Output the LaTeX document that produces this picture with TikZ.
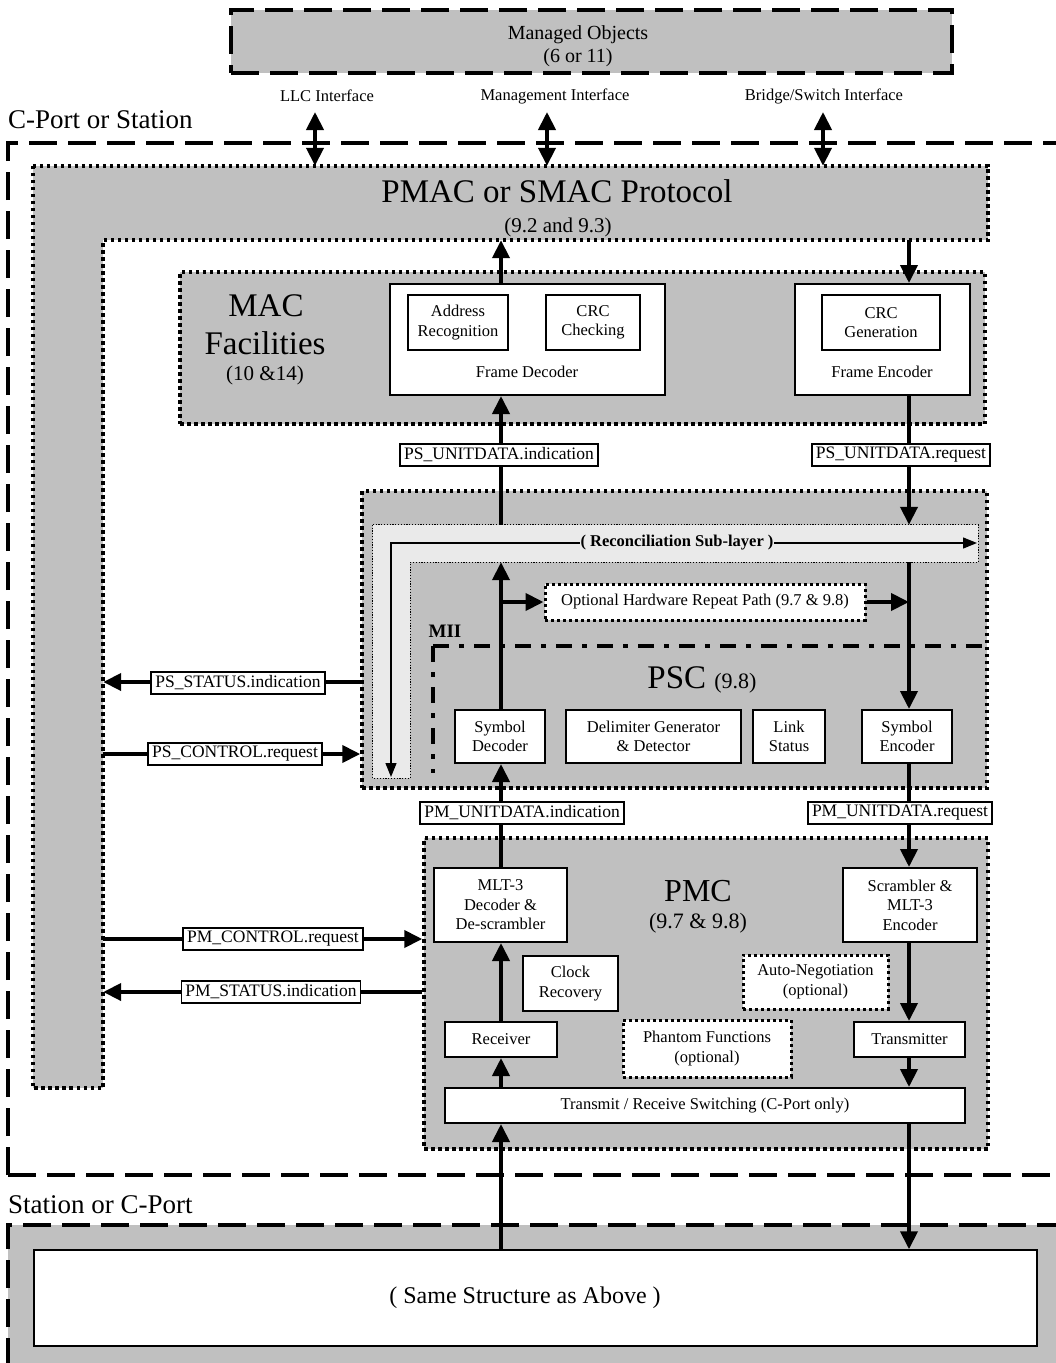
\documentclass[tikz,border=0pt]{standalone}
\usepackage{fontspec}
\setmainfont{Liberation Serif}
\usetikzlibrary{arrows.meta}
\definecolor{panelgray}{RGB}{192,192,192}
\definecolor{rslgray}{RGB}{234,234,234}
\newcommand\fsz[2]{\fontsize{#1}{#2}\selectfont}
\tikzset{
  span/.style n args={4}{at={({(#1+#3)/2},{(#2+#4)/2})}, minimum width={#3-#1}, minimum height={#4-#2}, inner sep=0pt, anchor=center},
  region/.style={fill=panelgray, draw=black, line width=3.5pt, dash pattern=on 3.5pt off 3.5pt, inner sep=0pt},
  dotline/.style={draw=black, line width=3.5pt, dash pattern=on 3.5pt off 3.5pt},
  wbox/.style={fill=white, draw=black, line width=2pt, inner sep=0pt, align=center, font=\fsz{16.5}{19.5}},
  wdot/.style={fill=white, draw=black, line width=3pt, dash pattern=on 3pt off 3pt, inner sep=0pt, align=center, font=\fsz{16.5}{19.5}},
  prim/.style={fill=white, draw=black, line width=1.8pt, inner xsep=4pt, inner ysep=3.5pt, font=\fsz{17.5}{21}},
  flow/.style={line width=4pt, -{Triangle[length=18pt,width=17pt]}},
  twoway/.style={line width=4pt, {Triangle[length=18pt,width=17pt]}-{Triangle[length=18pt,width=17pt]}},
  bigdash/.style={line width=3.5pt, dash pattern=on 28pt off 11pt},
  pscline/.style={line width=4.5pt, dash pattern=on 16pt off 10pt on 5pt off 10pt},
  thinflow/.style={line width=1.3pt, {Triangle[length=14pt,width=11pt]}-{Triangle[length=14pt,width=11pt]}},
}
\begin{document}
\begin{tikzpicture}[x=1pt,y=-1pt]
\useasboundingbox (0,0) rectangle (1056,1363);

% columns of the receive and transmit paths
\coordinate (colL) at (501,0);
\coordinate (colR) at (909,0);

% ---------- management objects and interfaces ----------
\node[fill=panelgray, draw=black, bigdash, span={231}{10}{952}{73}] (mo) {};
\node[font=\fsz{20}{23}, align=center] (motxt) at (578,46) {Managed Objects\\(6 or 11)};
\node[font=\fsz{16.5}{19}] (llc) at (327,96) {LLC Interface};
\node[font=\fsz{16.5}{19}] (mgmt) at (555,96) {Management Interface};
\node[font=\fsz{16.5}{19}] (brsw) at (824,96) {Bridge/Switch Interface};
\coordinate (i1) at (315,112);
\coordinate (i2) at (547,112);
\coordinate (i3) at (823,112);

% ---------- outer station boundaries ----------
\node[anchor=base west, font=\fsz{27}{32}, inner sep=0pt] (cps) at (8,128) {C-Port or Station};
\draw[bigdash] (8,1175) -- (8,143) -- (1060,143);
\draw[bigdash] (8,1175) -- (1060,1175);

\fill[panelgray] (8,1225) rectangle (1060,1366);
\draw[bigdash] (8,1366) -- (8,1225) -- (1060,1225);
\node[anchor=base west, font=\fsz{27}{32}, inner sep=0pt] (scp) at (8,1213) {Station or C-Port};
\node[wbox, line width=1.5pt, span={34}{1250}{1037}{1346}] (same) {};
\node[font=\fsz{24}{28}] (samet) at (525,1298) {( Same Structure as Above )};

% ---------- PMAC / SMAC protocol (L-shaped) ----------
\node[span={33}{166}{988}{240}] (pmac) {};
\node[span={33}{166}{103}{1088}] (pcol) {};
\fill[panelgray] (pmac.north west) rectangle (pmac.south east);
\fill[panelgray] (pcol.north west) rectangle (pcol.south east);
\draw[dotline] (pmac.north west) -- (pmac.north east) -- (pmac.south east)
  -- (pmac.south -| pcol.east) -- (pcol.south east) -- (pcol.south west) -- cycle;
\node[anchor=base, font=\fsz{33}{40}, inner sep=0pt] (pmact) at (557,202) {PMAC or SMAC Protocol};
\node[anchor=base, font=\fsz{21}{25}, inner sep=0pt] (pmacs) at (558,232) {(9.2 and 9.3)};

% ---------- MAC facilities ----------
\node[region, span={180}{272}{985}{424}] (mac) {};
\node[anchor=base, font=\fsz{33}{40}, inner sep=0pt] (mact1) at (266,316) {MAC};
\node[anchor=base, font=\fsz{33}{40}, inner sep=0pt] (mact2) at (265,354) {Facilities};
\node[anchor=base, font=\fsz{21}{25}, inner sep=0pt] (mact3) at (265,380) {(10 \&14)};

\node[wbox, span={390}{284}{665}{395}] (fdec) {};
\node[wbox, span={408}{295}{508}{350}] (addr) {Address\\Recognition};
\node[wbox, span={546}{295}{640}{350}] (crcc) {CRC\\Checking};
\node[anchor=base, font=\fsz{16.5}{19}, inner sep=0pt] (fdect) at (527,377) {Frame Decoder};

\node[wbox, span={795}{284}{970}{395}] (fenc) {};
\node[wbox, span={822}{295}{940}{350}] (crcg) {CRC\\Generation};
\node[anchor=base, font=\fsz{16.5}{19}, inner sep=0pt] (fenct) at (882,377) {Frame Encoder};

% ---------- MII, reconciliation and PSC ----------
\node[region, span={362}{491}{987}{788}] (mii) {};
\node[span={373}{525}{978}{562}] (rslbar) {};
\node[span={373}{525}{410}{778}] (rslcol) {};
\fill[rslgray] (rslbar.north west) rectangle (rslbar.south east);
\fill[rslgray] (rslcol.north west) rectangle (rslcol.south east);
\draw[line width=1.2pt, dash pattern=on 1.2pt off 1.6pt]
  (rslbar.north west) -- (rslbar.north east) -- (rslbar.south east)
  -- (rslbar.south -| rslcol.east) -- (rslcol.south east) -- (rslcol.south west) -- cycle;
\coordinate (rslend) at (977,543);
\coordinate (rslbend) at (391,543);
\coordinate (rsldown) at (391,777);
\draw[thinflow] (rslend) -- (rslbend) -- (rsldown);
\node[fill=rslgray, inner xsep=1pt, inner ysep=1pt, font=\bfseries\fsz{16.5}{19}] (rsltxt) at (677,543) {( Reconciliation Sub-layer )};

\node[wdot, span={545}{584}{865}{620}] (ohr) {Optional Hardware Repeat Path (9.7 \& 9.8)};
\node[anchor=base, font=\bfseries\fsz{19}{22}, inner sep=0pt] (miit) at (445,637) {MII};

\coordinate (pscc) at (433,646);
\draw[pscline] (pscc) -- (982,646);
\draw[pscline] (pscc) -- (433,773);
\node[anchor=base, inner sep=0pt] (psct) at (702,688) {\fsz{33}{40}PSC {\fsz{22}{26}(9.8)}};

\node[wbox, span={455}{710}{545}{763}] (symdec) {Symbol\\Decoder};
\node[wbox, span={566}{710}{741}{763}] (delim) {Delimiter Generator\\\& Detector};
\node[wbox, span={753}{710}{825}{763}] (link) {Link\\Status};
\node[wbox, span={862}{710}{952}{763}] (symenc) {Symbol\\Encoder};

% ---------- PMC ----------
\node[region, span={424}{838}{988}{1149}] (pmc) {};
\node[anchor=base, font=\fsz{32}{38}, inner sep=0pt] (pmct) at (698,901) {PMC};
\node[anchor=base, font=\fsz{22}{26}, inner sep=0pt] (pmcs) at (698,928) {(9.7 \& 9.8)};

\node[wbox, span={434}{868}{567}{942}] (mlt) {MLT-3\\Decoder \&\\De-scrambler};
\node[wbox, span={843}{868}{977}{942}] (scr) {Scrambler \&\\MLT-3\\Encoder};
\node[wbox, span={523}{956}{618}{1011}] (clk) {Clock\\Recovery};
\node[wdot, span={743}{955}{888}{1009}] (autoneg) {Auto-Negotiation\\(optional)};
\node[wbox, span={445}{1022}{557}{1057}] (rcv) {Receiver};
\node[wdot, span={623}{1020}{791}{1077}] (phan) {Phantom Functions\\(optional)};
\node[wbox, span={854}{1022}{965}{1057}] (xmt) {Transmitter};
\node[wbox, span={445}{1088}{965}{1123}] (sw) {Transmit / Receive Switching (C-Port only)};

% ---------- connectors ----------
\draw[twoway] (i1) -- (i1 |- pmac.north);
\draw[twoway] (i2) -- (i2 |- pmac.north);
\draw[twoway] (i3) -- (i3 |- pmac.north);

% receive path (upwards)
\draw[flow] (fdec.north -| colL) -- (pmac.south -| colL);
\draw[flow] (rslbar.north -| colL) -- (fdec.south -| colL);
\draw[flow] (symdec.north -| colL) -- (rslbar.south -| colL);
\draw[flow] (mlt.north -| colL) -- (symdec.south -| colL);
\draw[flow] (rcv.north -| colL) -- (mlt.south -| colL);
\draw[flow] (sw.north -| colL) -- (rcv.south -| colL);
\draw[flow] (same.north -| colL) -- (sw.south -| colL);

% transmit path (downwards)
\draw[flow] (pmac.south -| colR) -- (fenc.north -| colR);
\draw[flow] (fenc.south -| colR) -- (rslbar.north -| colR);
\draw[flow] (rslbar.south -| colR) -- (symenc.north -| colR);
\draw[flow] (symenc.south -| colR) -- (scr.north -| colR);
\draw[flow] (scr.south -| colR) -- (xmt.north -| colR);
\draw[flow] (xmt.south -| colR) -- (sw.north -| colR);
\draw[flow] (sw.south -| colR) -- (same.north -| colR);

% hardware repeat path
\draw[flow] (ohr.west -| colL) -- (ohr.west);
\draw[flow] (ohr.east) -- (ohr.east -| colR);

% service primitives to and from the protocol column
\coordinate (yps1) at (0,682);
\coordinate (yps2) at (0,754);
\coordinate (ypm1) at (0,939);
\coordinate (ypm2) at (0,992);
\draw[flow] (mii.west |- yps1) -- (pcol.east |- yps1);
\draw[flow] (pcol.east |- yps2) -- (mii.west |- yps2);
\draw[flow] (pcol.east |- ypm1) -- (pmc.west |- ypm1);
\draw[flow] (pmc.west |- ypm2) -- (pcol.east |- ypm2);

% primitive labels
\node[prim] (psui) at (499,455) {PS\_UNITDATA.indication};
\node[prim] (psur) at (901,455) {PS\_UNITDATA.request};
\node[prim] (psst) at (238,683) {PS\_STATUS.indication};
\node[prim] (psct2) at (235,754) {PS\_CONTROL.request};
\node[prim] (pmui) at (522,813) {PM\_UNITDATA.indication};
\node[prim] (pmur) at (900,813) {PM\_UNITDATA.request};
\node[prim] (pmcr) at (273,939) {PM\_CONTROL.request};
\node[prim] (pmsi) at (271,992) {PM\_STATUS.indication};
\end{tikzpicture}
\end{document}
